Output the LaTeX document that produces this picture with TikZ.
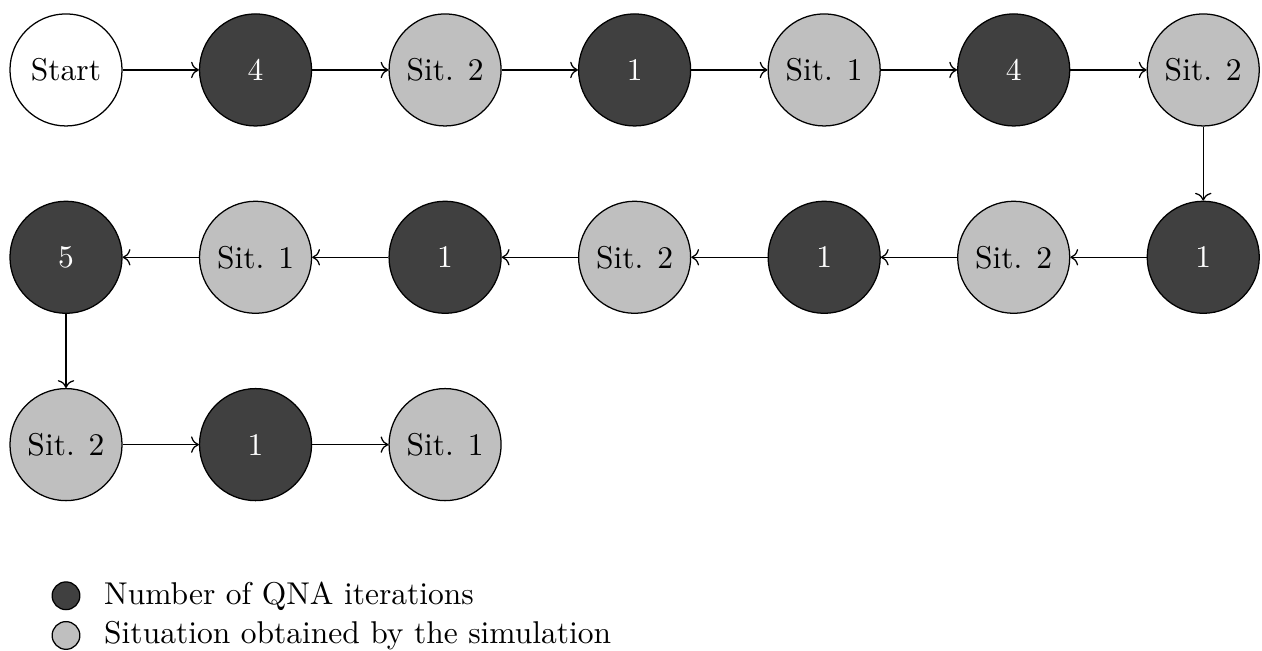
\documentclass[tikz,border=0pt]{standalone}
\usepackage{xcolor}
\usepackage{tikz}
\usetikzlibrary{arrows.meta,positioning}
\definecolor{qna}{HTML}{404040}
\definecolor{sit}{HTML}{BFBFBF}

\begin{document}
\begin{tikzpicture}[node distance=24.2pt, bub/.style={circle, draw, minimum size=1.25cm, inner sep=0pt}, it/.style={bub, fill=qna, text=white}, si/.style={bub, fill=sit}, leg/.style={circle, draw, minimum size=8.8pt, inner sep=0pt}]
\useasboundingbox (-20.95pt,22.2pt) rectangle (379.65pt,-184.2pt);
% first row
\node[bub] (st) at (0,0) {Start};
\node[it, right=of st] (q1) {4};
\node[si, right=of q1] (s1) {Sit. 2};
\node[it, right=of s1] (q2) {1};
\node[si, right=of q2] (s2) {Sit. 1};
\node[it, right=of s2] (q3) {4};
\node[si, right=of q3] (s3) {Sit. 2};
% second row, right to left
\node[it, below=23.5pt of s3] (q4) {1};
\node[si, left=of q4] (s4) {Sit. 2};
\node[it, left=of s4] (q5) {1};
\node[si, left=of q5] (s5) {Sit. 2};
\node[it, left=of s5] (q6) {1};
\node[si, left=of q6] (s6) {Sit. 1};
\node[it, left=of s6] (q7) {5};
% third row
\node[si, below=23.5pt of q7] (s7) {Sit. 2};
\node[it, right=of s7] (q8) {1};
\node[si, right=of q8] (s8) {Sit. 1};
% legend
\node[leg, fill=qna, below=25.4pt of s7] (lq) {};
\node[leg, fill=sit, below=3.4pt of lq] (ls) {};
\node[right=4pt of lq] (tq) {Number of QNA iterations};
\node[right=4pt of ls] (ts) {Situation obtained by the simulation};
\draw[-{To}] (st) -- (q1); \draw[-{To}] (q1) -- (s1); \draw[-{To}] (s1) -- (q2); \draw[-{To}] (q2) -- (s2); \draw[-{To}] (s2) -- (q3); \draw[-{To}] (q3) -- (s3);
\draw[-{To}] (s3) -- (q4); \draw[-{To}] (q4) -- (s4); \draw[-{To}] (s4) -- (q5); \draw[-{To}] (q5) -- (s5); \draw[-{To}] (s5) -- (q6); \draw[-{To}] (q6) -- (s6); \draw[-{To}] (s6) -- (q7);
\draw[-{To}] (q7) -- (s7); \draw[-{To}] (s7) -- (q8); \draw[-{To}] (q8) -- (s8);
\end{tikzpicture}
\end{document}
